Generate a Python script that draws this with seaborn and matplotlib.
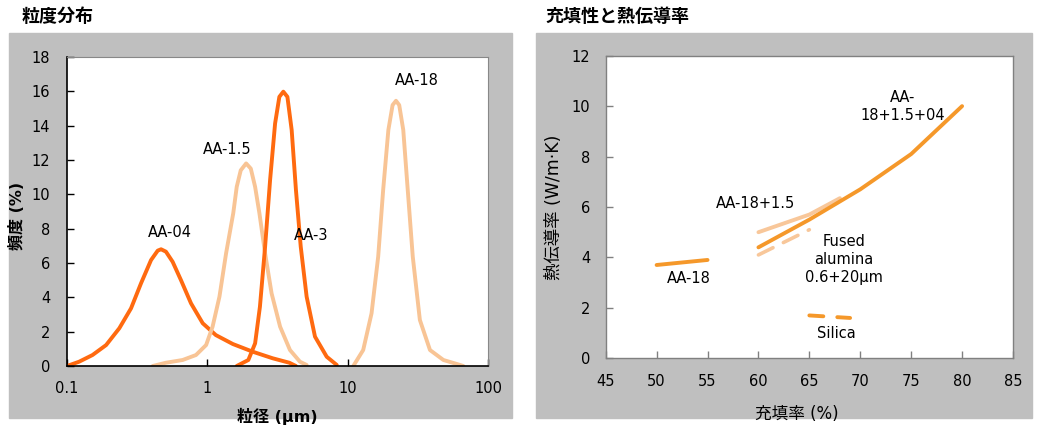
import numpy as np
import pandas as pd
import matplotlib
matplotlib.use("Agg")
import matplotlib.pyplot as plt
import seaborn as sns
from matplotlib.patches import Rectangle

# ----------------------------
# DANE: rozkład ziarnowy (lewy wykres)
# ----------------------------
aa04_x = [0.10, 0.122, 0.152, 0.190, 0.236, 0.286, 0.337, 0.397, 0.443, 0.468, 0.507, 0.566,
          0.649, 0.765, 0.927, 1.15, 1.52, 2.11, 2.92, 3.84, 4.28]
aa04_y = [0.0, 0.25, 0.64, 1.22, 2.2, 3.36, 4.82, 6.17, 6.72, 6.8, 6.66, 6.07,
          5.0, 3.65, 2.49, 1.8, 1.28, 0.83, 0.45, 0.19, 0.0]

aa15_x = [0.408, 0.507, 0.667, 0.83, 0.98, 1.09, 1.22, 1.36, 1.53, 1.62, 1.73, 1.89,
          2.04, 2.19, 2.35, 2.58, 2.87, 3.30, 3.88, 4.57, 5.1]
aa15_y = [0.0, 0.19, 0.35, 0.64, 1.22, 2.29, 4.04, 6.56, 8.9, 10.44, 11.4, 11.8,
          11.5, 10.44, 8.9, 6.56, 4.23, 2.29, 0.93, 0.25, 0.06]

aa3_x = [1.62, 1.96, 2.19, 2.37, 2.58, 2.80, 3.04, 3.26, 3.48, 3.72, 3.99, 4.28, 4.63,
         5.1, 5.85, 7.09, 8.36]
aa3_y = [0.0, 0.35, 1.32, 3.45, 6.95, 10.83, 14.13, 15.68, 15.98, 15.68, 13.75, 10.25, 6.95,
         4.04, 1.71, 0.54, 0.06]

aa18_x = [10.97, 12.9, 14.8, 16.5, 17.9, 19.5, 20.9, 22.1, 23.3, 24.9, 26.8, 29.1, 32.7,
          38.6, 48.1, 59.8, 66.7]
aa18_y = [0.0, 0.93, 3.07, 6.37, 10.25, 13.75, 15.2, 15.45, 15.2, 13.75, 10.25, 6.37, 2.68,
          0.93, 0.35, 0.12, 0.0]

psd_labels = ["AA-04", "AA-1.5", "AA-3", "AA-18"]
psd_xticks = [0.1, 1, 10, 100]
psd_xticklabels = ["0.1", "1", "10", "100"]
psd_yticks = [0, 2, 4, 6, 8, 10, 12, 14, 16, 18]

# ----------------------------
# DANE: stopień wypełnienia vs przewodność (prawy wykres)
# ----------------------------
aa18_fill = [50, 55]
aa18_k = [3.7, 3.9]
mix2_fill = [60, 65, 68]
mix2_k = [5.0, 5.7, 6.35]
mix3_fill = [60, 65, 70, 75, 80]
mix3_k = [4.4, 5.5, 6.7, 8.1, 10.0]
fused_fill = [60, 65]
fused_k = [4.1, 5.1]
silica_fill = [65, 69]
silica_k = [1.7, 1.6]

tc_xticks = [45, 50, 55, 60, 65, 70, 75, 80, 85]
tc_yticks = [0, 2, 4, 6, 8, 10, 12]

DARK = "#FF6A10"
LIGHT = "#F8C495"
ORANGE = "#F5982A"
LIGHT2 = "#F8C79A"
GREY_BG = "#BFBFBF"

sns.set_theme(style="white")
plt.rcParams["font.family"] = ["DejaVu Sans", "Noto Sans CJK JP"]
plt.rcParams["font.size"] = 10
plt.rcParams["text.color"] = "black"
plt.rcParams["axes.labelcolor"] = "black"
plt.rcParams["xtick.color"] = "black"
plt.rcParams["ytick.color"] = "black"

fig = plt.figure(figsize=(10.37, 4.28), dpi=100)
W, H = 1037, 428

# szare tła paneli
for x0, x1 in [(9, 512), (536, 1032)]:
    fig.patches.append(Rectangle((x0 / W, 1 - 418 / H), (x1 - x0) / W, (418 - 33) / H,
                                 transform=fig.transFigure, color=GREY_BG, zorder=-10))

fig.text(22 / W, 1 - 16 / H, "粒度分布", fontsize=13, va="center", ha="left",
         family=["Noto Sans CJK JP"], fontweight="bold")
fig.text(545 / W, 1 - 16 / H, "充填性と熱伝導率", fontsize=13, va="center", ha="left",
         family=["Noto Sans CJK JP"], fontweight="bold")

# ----------------------------
# LEWY WYKRES
# ----------------------------
ax1 = fig.add_axes([67 / W, 1 - 366 / H, (488 - 67) / W, (366 - 57) / H])
ax1.set_facecolor("white")
curves = [(aa04_x, aa04_y, DARK), (aa15_x, aa15_y, LIGHT), (aa3_x, aa3_y, DARK), (aa18_x, aa18_y, LIGHT)]
for (xs, ys, col), name in zip(curves, psd_labels):
    df = pd.DataFrame({"x": xs, "y": ys})
    sns.lineplot(data=df, x="x", y="y", ax=ax1, color=col, linewidth=2.8,
                 estimator=None, sort=False, solid_capstyle="round", solid_joinstyle="round")
ax1.set_xscale("log")
ax1.set_xlim(0.1, 100)
ax1.set_ylim(0, 18)
ax1.set_xticks(psd_xticks)
ax1.set_xticklabels(psd_xticklabels)
ax1.minorticks_off()
ax1.set_yticks(psd_yticks)
ax1.tick_params(axis="both", direction="in", length=5, width=1, colors="black", labelsize=10.5)
ax1.tick_params(axis="x", pad=11)
ax1.tick_params(axis="y", pad=12, left=True)
ax1.tick_params(axis="x", bottom=True)
for s in ["left", "bottom"]:
    ax1.spines[s].set_color("black")
    ax1.spines[s].set_linewidth(1.2)
for s in ["top", "right"]:
    ax1.spines[s].set_color("#888888")
    ax1.spines[s].set_linewidth(0.8)
ax1.set_xlabel("粒径 (μm)", fontsize=11.5, fontweight="bold")
ax1.set_ylabel("頻度 (%)", fontsize=11.5, fontweight="bold")
ax1.xaxis.set_label_coords(0.50, -0.135)
ax1.yaxis.set_label_coords(-0.10, 0.485)

ann1 = [("AA-04", 0.54, 7.75), ("AA-1.5", 1.38, 12.6), ("AA-3", 5.46, 7.63), ("AA-18", 31.0, 16.66)]
for txt, xv, yv in ann1:
    ax1.text(xv, yv, txt, fontsize=10.5, ha="center", va="center", color="black")

# ----------------------------
# PRAWY WYKRES
# ----------------------------
ax2 = fig.add_axes([605.7 / W, 1 - 358.3 / H, (1013 - 605.7) / W, (358.3 - 55.7) / H])
ax2.set_facecolor("white")
series = [
    (mix2_fill, mix2_k, LIGHT2, "-", 2.8),
    (fused_fill, fused_k, LIGHT2, (0, (4.5, 3.2)), 2.6),
    (aa18_fill, aa18_k, ORANGE, "-", 2.8),
    (mix3_fill, mix3_k, ORANGE, "-", 2.8),
    (silica_fill, silica_k, ORANGE, (0, (3.6, 3.6)), 2.8),
]
for xs, ys, col, ls, lw in series:
    df = pd.DataFrame({"x": xs, "y": ys})
    sns.lineplot(data=df, x="x", y="y", ax=ax2, color=col, linewidth=lw, linestyle=ls,
                 estimator=None, sort=False, solid_capstyle="round", dash_capstyle="round")
ax2.set_xlim(45, 85)
ax2.set_ylim(0, 12)
ax2.set_xticks(tc_xticks)
ax2.set_yticks(tc_yticks)
ax2.tick_params(axis="both", direction="in", length=5, width=1, colors="#808080",
                labelcolor="black", labelsize=10.5)
ax2.tick_params(axis="x", pad=11, bottom=True)
ax2.tick_params(axis="y", pad=11, left=True)
for s in ax2.spines.values():
    s.set_color("#808080")
    s.set_linewidth(1.0)
ax2.set_xlabel("充填率 (%)", fontsize=12)
ax2.set_ylabel("熱伝導率 (W/m·K)", fontsize=12.5)
ax2.xaxis.set_label_coords(0.47, -0.155)
ax2.yaxis.set_label_coords(-0.105, 0.50)

ann2 = [("AA-\n18+1.5+04", 74.2, 9.97), ("AA-18+1.5", 59.7, 6.15),
        ("Fused\nalumina\n0.6+20μm", 68.4, 3.9), ("AA-18", 53.2, 3.15),
        ("Silica", 67.7, 1.0)]
for txt, xv, yv in ann2:
    ax2.text(xv, yv, txt, fontsize=10.5, ha="center", va="center", color="black", linespacing=1.25)

fig.savefig("out.png", dpi=100, facecolor="white")
